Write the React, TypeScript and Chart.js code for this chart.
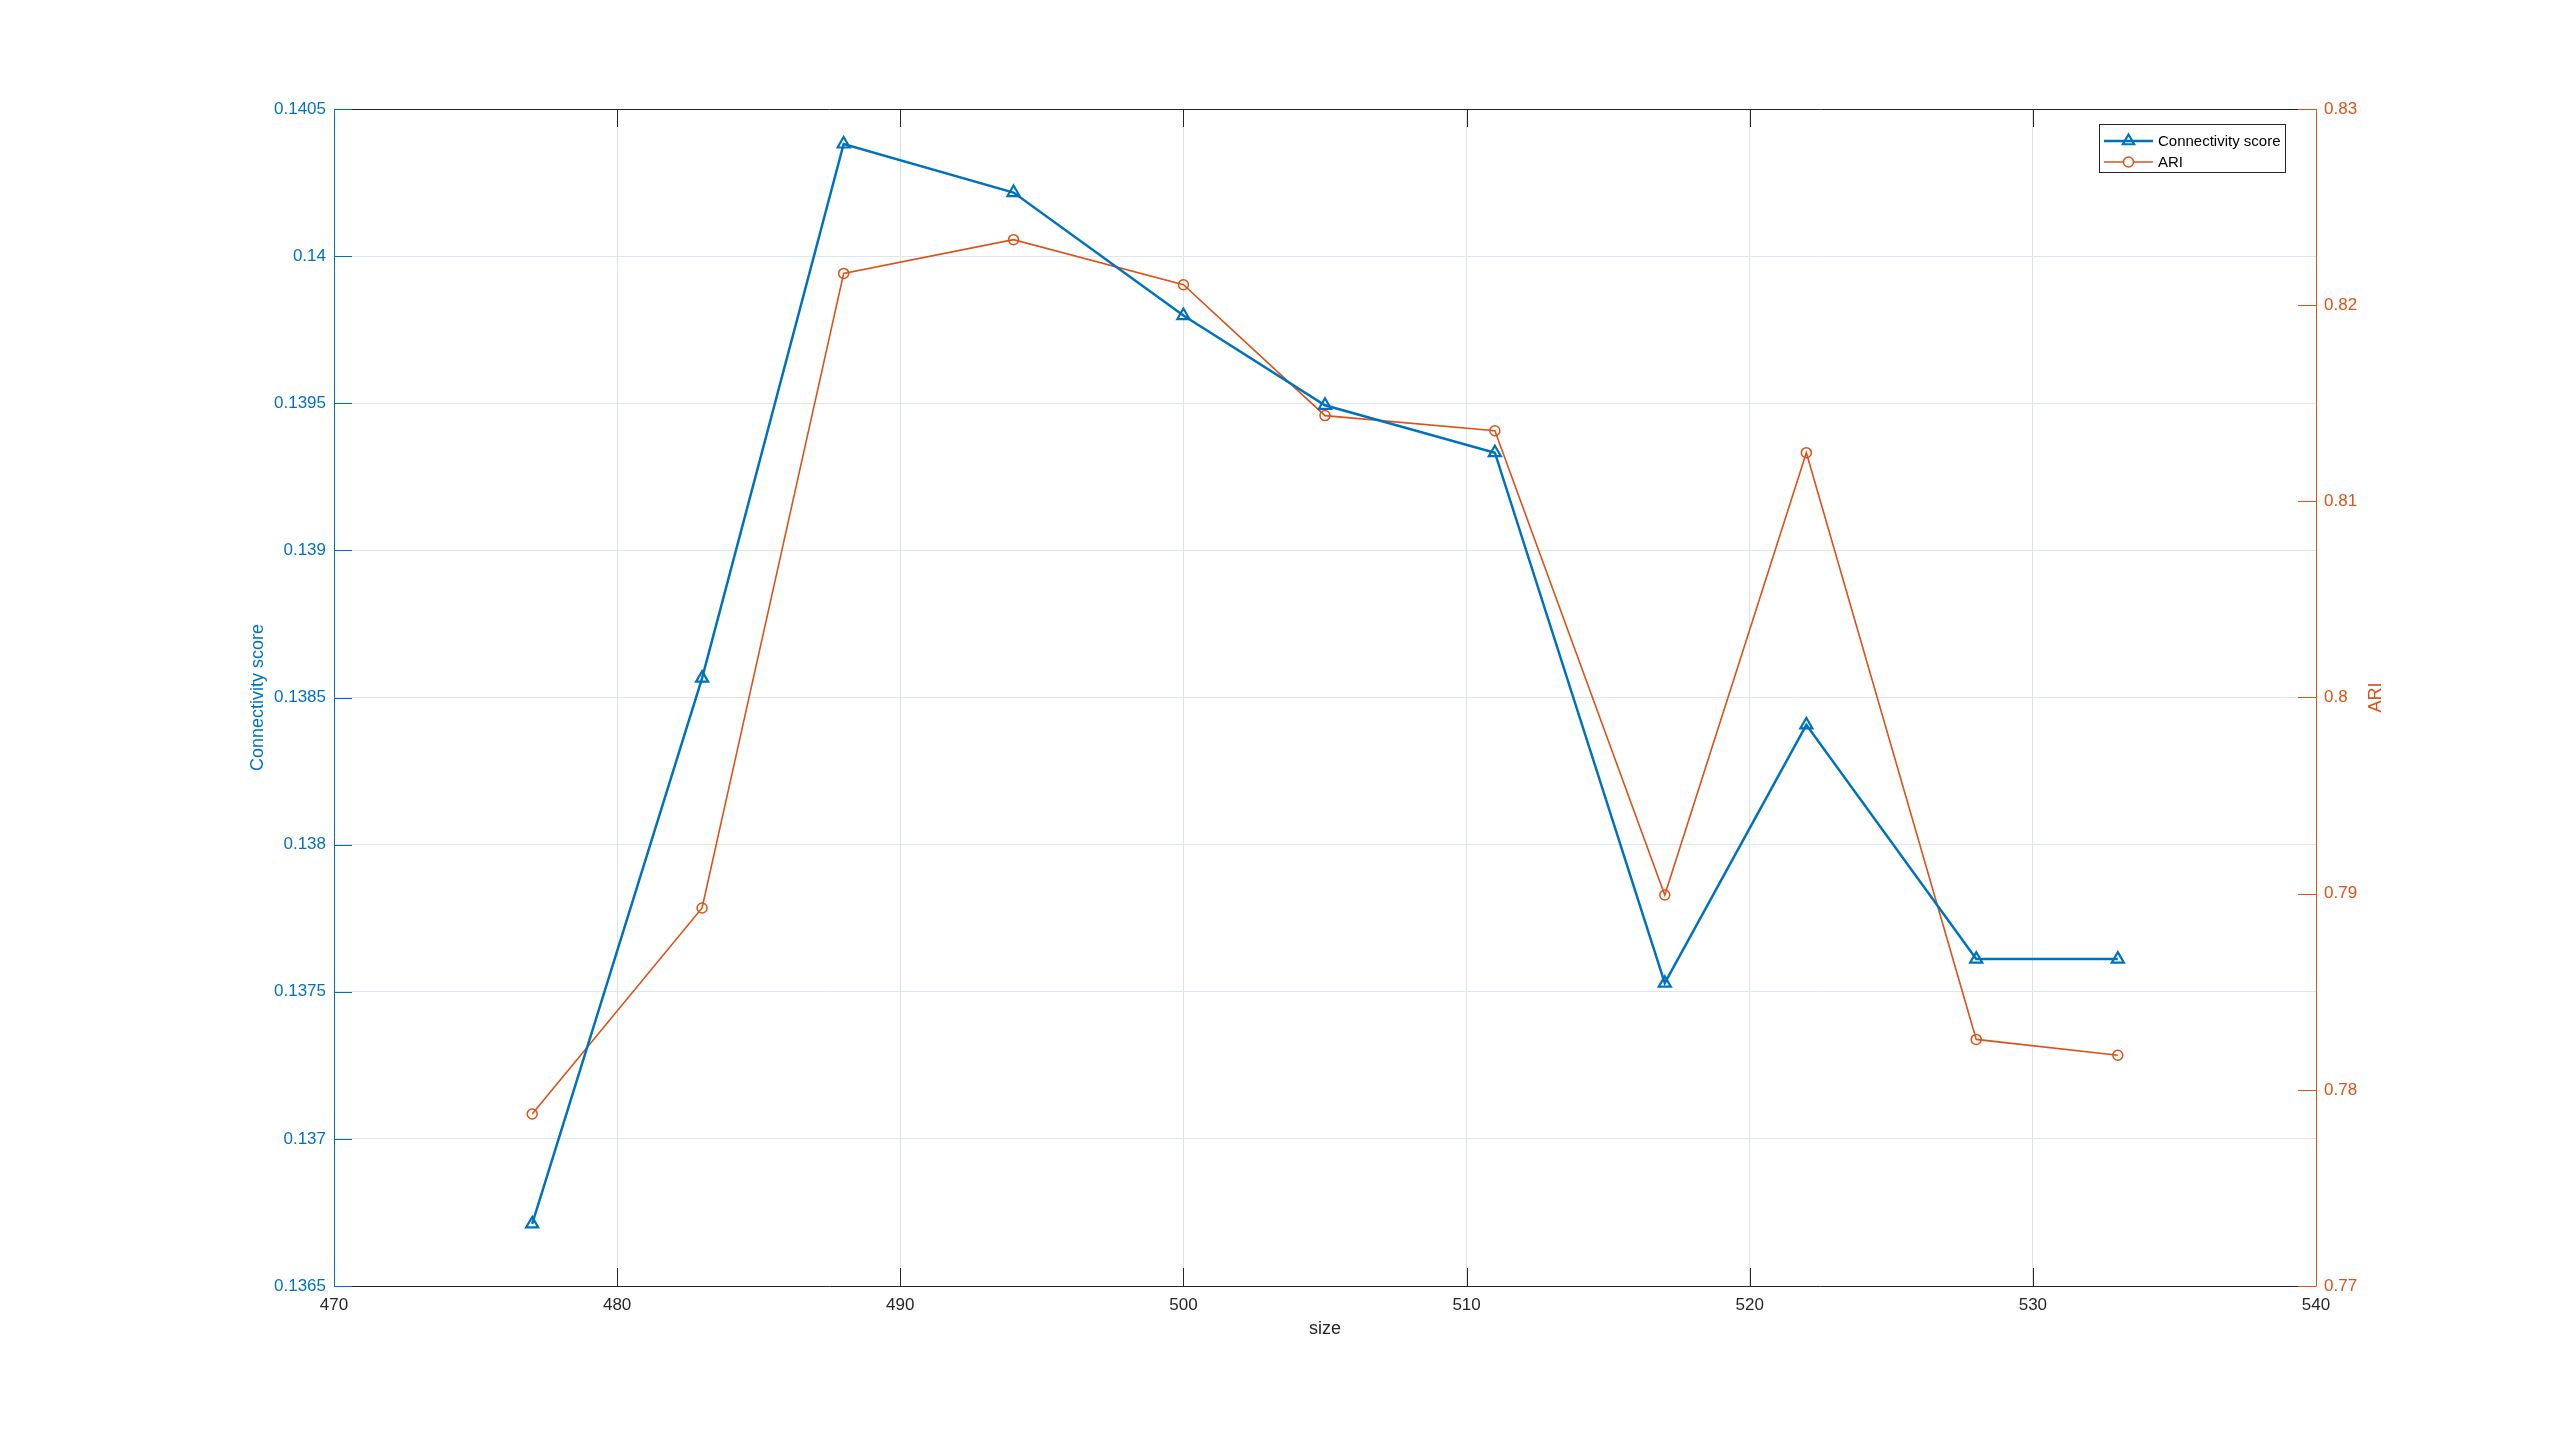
import React, { useEffect, useRef } from "react";
import { Chart, registerables } from "chart.js";

Chart.register(...registerables);

const sizes = [477, 483, 488, 494, 500, 505, 511, 517, 522, 528, 533];
const connectivity = [
  0.136711, 0.138566, 0.140381, 0.140216, 0.139798, 0.139493, 0.139332, 0.137529,
  0.138407, 0.137611, 0.137611,
];
const ari = [
  0.77877, 0.78927, 0.82162, 0.82334, 0.82104, 0.81437, 0.8136, 0.78993, 0.81248,
  0.78257, 0.78176,
];
const xRange = [470, 540];
const xStep = 10;
const leftRange = [0.1365, 0.1405];
const leftStep = 0.0005;
const rightRange = [0.77, 0.83];
const rightStep = 0.01;
const seriesLabels = ["Connectivity score", "ARI"];
const axisTitles = { x: "size", left: "Connectivity score", right: "ARI" };

const BLUE = "#0072BD";
const ORANGE = "#D95319";
const DARK = "#262626";
const FONT = "'Liberation Sans', Arial, Helvetica, sans-serif";

function drawTriangle(ctx: CanvasRenderingContext2D, x: number, y: number, r: number) {
  ctx.beginPath();
  for (let i = 0; i < 3; i++) {
    const a = (i * 2 * Math.PI) / 3;
    const px = x + Math.sin(a) * r;
    const py = y - Math.cos(a) * r;
    if (i === 0) ctx.moveTo(px, py);
    else ctx.lineTo(px, py);
  }
  ctx.closePath();
  ctx.stroke();
}

const framePlugin = {
  id: "matlabFrame",
  afterDatasetsDraw(chart: any) {
    const { ctx, chartArea: a, scales } = chart;
    const L = 18;
    ctx.save();
    ctx.lineWidth = 1;
    ctx.strokeStyle = DARK;
    scales.x.ticks.forEach((t: any) => {
      const px = Math.round(scales.x.getPixelForValue(t.value)) + 0.5;
      ctx.beginPath();
      ctx.moveTo(px, a.bottom);
      ctx.lineTo(px, a.bottom - L);
      ctx.moveTo(px, a.top);
      ctx.lineTo(px, a.top + L);
      ctx.stroke();
    });
    ctx.beginPath();
    ctx.moveTo(a.left, Math.round(a.top) + 0.5);
    ctx.lineTo(a.right, Math.round(a.top) + 0.5);
    ctx.moveTo(a.left, Math.round(a.bottom) + 0.5);
    ctx.lineTo(a.right, Math.round(a.bottom) + 0.5);
    ctx.stroke();
    ctx.strokeStyle = BLUE;
    scales.y.ticks.forEach((t: any) => {
      const py = Math.round(scales.y.getPixelForValue(t.value)) + 0.5;
      ctx.beginPath();
      ctx.moveTo(a.left, py);
      ctx.lineTo(a.left + L, py);
      ctx.stroke();
    });
    ctx.beginPath();
    ctx.moveTo(Math.round(a.left) + 0.5, a.top);
    ctx.lineTo(Math.round(a.left) + 0.5, a.bottom + 0.5);
    ctx.stroke();
    ctx.strokeStyle = ORANGE;
    scales.y1.ticks.forEach((t: any) => {
      const py = Math.round(scales.y1.getPixelForValue(t.value)) + 0.5;
      ctx.beginPath();
      ctx.moveTo(a.right, py);
      ctx.lineTo(a.right - L, py);
      ctx.stroke();
    });
    ctx.beginPath();
    ctx.moveTo(Math.round(a.right) + 0.5, a.top);
    ctx.lineTo(Math.round(a.right) + 0.5, a.bottom + 0.5);
    ctx.stroke();
    ctx.restore();
  },
  afterDraw(chart: any) {
    const { ctx, chartArea: a } = chart;
    ctx.save();
    // right axis title (MATLAB style, reads bottom-to-top)
    ctx.translate(a.right + 60, (a.top + a.bottom) / 2);
    ctx.rotate(-Math.PI / 2);
    ctx.fillStyle = ORANGE;
    ctx.font = `18px ${FONT}`;
    ctx.textAlign = "center";
    ctx.textBaseline = "middle";
    ctx.fillText(axisTitles.right, 0, 0);
    ctx.restore();

    const boxRight = a.right - 31;
    const boxLeft = boxRight - 186;
    const boxTop = a.top + 15;
    const boxH = 48;
    ctx.save();
    ctx.fillStyle = "#ffffff";
    ctx.fillRect(boxLeft, boxTop, boxRight - boxLeft, boxH);
    ctx.strokeStyle = "#262626";
    ctx.lineWidth = 1;
    ctx.strokeRect(Math.round(boxLeft) + 0.5, Math.round(boxTop) + 0.5, Math.round(boxRight - boxLeft), boxH);
    const rows = [boxTop + 17, boxTop + 38];
    const colors = [BLUE, ORANGE];
    const lineStart = boxLeft + 5;
    const lineEnd = boxLeft + 54;
    const mid = (lineStart + lineEnd) / 2;
    rows.forEach((y, i) => {
      ctx.strokeStyle = colors[i];
      ctx.lineWidth = i === 0 ? 2.5 : 1.5;
      ctx.beginPath();
      ctx.moveTo(lineStart, y);
      ctx.lineTo(lineEnd, y);
      ctx.stroke();
      if (i === 0) {
        ctx.lineWidth = 2.2;
        drawTriangle(ctx, mid, y, 6.5);
      } else {
        ctx.lineWidth = 1.5;
        ctx.fillStyle = "#ffffff";
        ctx.beginPath();
        ctx.arc(mid, y, 5, 0, Math.PI * 2);
        ctx.fill();
        ctx.stroke();
      }
      ctx.fillStyle = "#000000";
      ctx.font = `15px ${FONT}`;
      ctx.textBaseline = "middle";
      ctx.textAlign = "left";
      ctx.fillText(seriesLabels[i], boxLeft + 59, y + 1);
    });
    ctx.restore();
  },
};

export default function App() {
  const ref = useRef<HTMLCanvasElement | null>(null);
  useEffect(() => {
    if (!ref.current) return;
    const chart = new Chart(ref.current, {
      type: "line",
      data: {
        datasets: [
          {
            label: seriesLabels[0],
            data: sizes.map((s, i) => ({ x: s, y: connectivity[i] })),
            yAxisID: "y",
            borderColor: BLUE,
            borderWidth: 2.5,
            pointStyle: "triangle",
            pointRadius: 7,
            pointBorderWidth: 2.2,
            pointBorderColor: BLUE,
            pointBackgroundColor: "rgba(0,0,0,0)",
            tension: 0,
            fill: false,
          },
          {
            label: seriesLabels[1],
            data: sizes.map((s, i) => ({ x: s, y: ari[i] })),
            yAxisID: "y1",
            borderColor: ORANGE,
            borderWidth: 1.6,
            pointStyle: "circle",
            pointRadius: 5,
            pointBorderWidth: 1.5,
            pointBorderColor: ORANGE,
            pointBackgroundColor: "rgba(0,0,0,0)",
            tension: 0,
            fill: false,
          },
        ],
      },
      options: {
        responsive: false,
        animation: false,
        devicePixelRatio: 1,
        layout: { padding: { left: 243, right: 169, top: 109, bottom: 102 } },
        plugins: {
          legend: { display: false },
          tooltip: { enabled: false },
        },
        scales: {
          x: {
            type: "linear",
            position: "bottom",
            min: xRange[0],
            max: xRange[1],
            afterFit: (s: any) => {
              s.height = 58;
            },
            ticks: {
              stepSize: xStep,
              color: DARK,
              font: { family: FONT, size: 17 },
              padding: 9,
              maxRotation: 0,
            },
            grid: { color: "#dfe2e5", lineWidth: 1, drawTicks: false },
            border: { display: false },
            title: {
              display: true,
              text: axisTitles.x,
              color: DARK,
              font: { family: FONT, size: 18 },
            },
          },
          y: {
            type: "linear",
            position: "left",
            min: leftRange[0],
            max: leftRange[1],
            afterFit: (s: any) => {
              s.width = 91;
            },
            ticks: {
              stepSize: leftStep,
              color: BLUE,
              font: { family: FONT, size: 17 },
              padding: 8,
              callback: (v: any) => String(Number(Number(v).toFixed(4))),
            },
            grid: { color: "#dbe6ee", lineWidth: 1, drawTicks: false },
            border: { display: false },
            title: {
              display: true,
              text: axisTitles.left,
              color: BLUE,
              font: { family: FONT, size: 18 },
            },
          },
          y1: {
            type: "linear",
            position: "right",
            min: rightRange[0],
            max: rightRange[1],
            afterFit: (s: any) => {
              s.width = 75;
            },
            ticks: {
              stepSize: rightStep,
              color: ORANGE,
              font: { family: FONT, size: 17 },
              padding: 8,
              callback: (v: any) => String(Number(Number(v).toFixed(2))),
            },
            grid: { display: false, drawTicks: false },
            border: { display: false },
            title: { display: false },
          },
        },
      },
      plugins: [framePlugin],
    });
    return () => chart.destroy();
  }, []);

  return (
    <div style={{ position: "absolute", left: 0, top: 0, width: 2560, height: 1446, background: "#ffffff" }}>
      <canvas ref={ref} width={2560} height={1446} style={{ display: "block", width: 2560, height: 1446 }} />
    </div>
  );
}
